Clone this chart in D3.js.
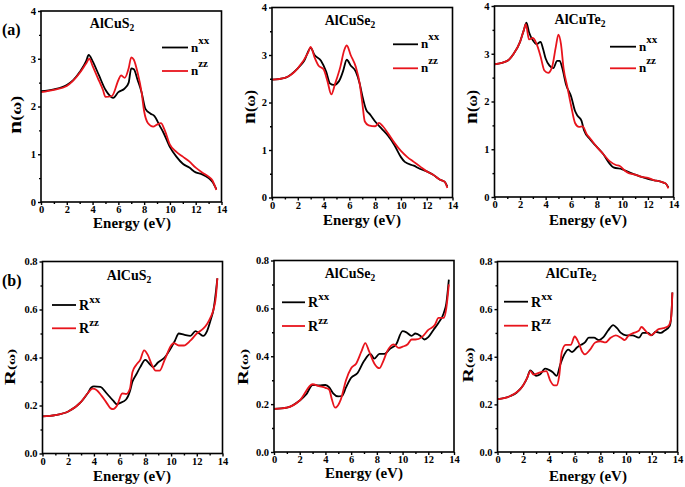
<!DOCTYPE html>
<html><head><meta charset="utf-8">
<script src="https://cdn.jsdelivr.net/npm/d3@7/dist/d3.min.js"></script>
<style>
body{margin:0;background:#fff;}
text{font-family:"Liberation Serif","Times New Roman",serif;font-weight:bold;fill:#000;}
</style></head>
<body><svg id="c" width="685" height="487"></svg>
<script>
// ---------- DATA ----------
const xTicks = [0,2,4,6,8,10,12,14];
const nTicks = [0,1,2,3,4];
const rTicks = [0,0.2,0.4,0.6,0.8];
const compounds = ["AlCuS", "AlCuSe", "AlCuTe"];

const nS_xx = [[0,2.32],[1,2.36],[2,2.45],[2.5,2.55],[3,2.72],[3.5,2.95],[3.7,3.08],[4,2.95],[4.5,2.65],[5,2.35],[5.2,2.27],[5.6,2.18],[6,2.3],[6.5,2.38],[6.8,2.5],[7.0,2.8],[7.2,2.78],[7.5,2.55],[7.8,2.3],[8.1,1.95],[8.5,1.85],[8.8,1.8],[9.2,1.6],[9.5,1.45],[10,1.15],[10.5,0.95],[11,0.8],[11.5,0.72],[12,0.62],[12.5,0.58],[13,0.5],[13.3,0.42],[13.6,0.27]];
const nS_zz = [[0,2.3],[1,2.35],[2,2.43],[3,2.7],[3.5,2.9],[3.75,3.0],[4,2.85],[4.4,2.6],[4.8,2.35],[5,2.2],[5.5,2.22],[6,2.55],[6.2,2.65],[6.5,2.6],[6.8,2.8],[7.0,3.03],[7.2,2.98],[7.5,2.7],[7.8,2.3],[8.0,1.9],[8.3,1.65],[8.7,1.58],[9.0,1.62],[9.3,1.65],[9.6,1.5],[10,1.2],[10.5,1.05],[11,0.95],[11.5,0.85],[12,0.72],[12.5,0.62],[13,0.53],[13.3,0.45],[13.6,0.25]];

const nSe_xx = [[0,2.48],[1,2.52],[2,2.72],[2.5,2.88],[3.0,3.15],[3.3,3.0],[3.8,2.88],[4.2,2.65],[4.5,2.4],[4.8,2.37],[5.2,2.45],[5.5,2.65],[5.8,2.9],[6.1,2.78],[6.5,2.65],[6.8,2.4],[7.0,2.15],[7.3,1.85],[7.6,1.75],[8.0,1.6],[8.5,1.45],[9,1.3],[9.5,1.1],[10,0.85],[10.3,0.75],[11,0.67],[11.5,0.6],[12,0.55],[12.5,0.48],[13,0.38],[13.4,0.33],[13.6,0.23]];
const nSe_zz = [[0,2.48],[1,2.52],[2,2.72],[2.8,3.05],[3.0,3.17],[3.3,2.95],[3.6,2.78],[4.0,2.7],[4.3,2.45],[4.6,2.17],[4.9,2.4],[5.3,2.75],[5.6,3.1],[5.8,3.2],[6.1,3.0],[6.5,2.75],[6.8,2.4],[7.0,2.0],[7.2,1.6],[7.5,1.52],[8.0,1.5],[8.3,1.57],[8.6,1.5],[9.0,1.35],[9.5,1.15],[10,0.98],[10.5,0.85],[11,0.75],[11.5,0.65],[12,0.55],[12.5,0.48],[13,0.38],[13.4,0.33],[13.6,0.2]];

const nTe_xx = [[0,2.78],[1,2.85],[1.5,3.0],[2.0,3.25],[2.3,3.5],[2.5,3.65],[2.7,3.45],[3.0,3.28],[3.3,3.2],[3.6,3.25],[3.8,3.1],[4.0,2.9],[4.3,2.75],[4.6,2.7],[4.9,2.85],[5.1,2.85],[5.3,2.7],[5.6,2.35],[6.0,2.1],[6.3,1.8],[6.5,1.7],[6.8,1.6],[7.0,1.4],[7.5,1.2],[8.0,1.05],[8.5,0.9],[9.0,0.7],[9.3,0.62],[10,0.58],[10.5,0.52],[11,0.47],[11.5,0.42],[12,0.38],[12.5,0.35],[13,0.32],[13.4,0.28],[13.6,0.2]];
const nTe_zz = [[0,2.78],[1,2.85],[1.5,3.0],[2.0,3.25],[2.3,3.5],[2.45,3.62],[2.7,3.3],[3.0,3.33],[3.3,3.2],[3.6,2.95],[3.9,2.65],[4.2,2.6],[4.5,2.72],[4.8,3.15],[5.0,3.4],[5.2,3.2],[5.4,2.7],[5.7,2.3],[6.0,1.9],[6.3,1.55],[6.6,1.47],[6.9,1.48],[7.2,1.32],[7.5,1.22],[8.0,1.05],[8.5,0.9],[9.0,0.75],[9.5,0.67],[9.8,0.65],[10.2,0.55],[10.5,0.5],[11,0.47],[11.5,0.42],[12,0.4],[12.5,0.35],[13,0.32],[13.4,0.28],[13.6,0.18]];

const rS_xx = [[0,0.155],[1,0.16],[2,0.175],[3,0.215],[3.5,0.25],[3.8,0.275],[4.0,0.28],[4.5,0.278],[5.0,0.25],[5.5,0.22],[5.8,0.205],[6.0,0.21],[6.5,0.225],[6.8,0.26],[7.0,0.3],[7.3,0.33],[7.6,0.36],[8.0,0.39],[8.3,0.375],[8.6,0.36],[9.0,0.38],[9.5,0.4],[10,0.44],[10.3,0.47],[10.6,0.5],[11,0.495],[11.5,0.49],[11.9,0.51],[12.2,0.5],[12.5,0.49],[12.8,0.51],[13.1,0.56],[13.3,0.6],[13.5,0.68],[13.6,0.73]];
const rS_zz = [[0,0.155],[1,0.16],[2,0.175],[3,0.215],[3.5,0.25],[3.9,0.27],[4.2,0.265],[4.6,0.24],[5.0,0.21],[5.3,0.188],[5.5,0.185],[5.8,0.2],[6.2,0.25],[6.5,0.248],[6.8,0.27],[7.0,0.34],[7.3,0.37],[7.6,0.39],[7.9,0.43],[8.2,0.41],[8.5,0.37],[8.8,0.345],[9.1,0.345],[9.5,0.39],[10,0.45],[10.2,0.46],[10.6,0.45],[11,0.45],[11.5,0.47],[12,0.5],[12.5,0.52],[12.8,0.54],[13.1,0.57],[13.3,0.6],[13.5,0.66],[13.6,0.73]];

const rSe_xx = [[0,0.18],[1,0.185],[2,0.215],[2.5,0.24],[3.0,0.28],[3.5,0.278],[4.0,0.28],[4.3,0.27],[4.6,0.245],[5.0,0.232],[5.3,0.235],[5.6,0.27],[6.0,0.31],[6.5,0.33],[7.0,0.38],[7.5,0.41],[7.8,0.39],[8.2,0.41],[8.6,0.41],[9.0,0.43],[9.5,0.45],[10,0.505],[10.3,0.5],[10.7,0.485],[11,0.495],[11.4,0.485],[11.7,0.47],[12,0.48],[12.4,0.51],[12.8,0.54],[13.2,0.58],[13.4,0.62],[13.6,0.72]];
const rSe_zz = [[0,0.18],[1,0.185],[2,0.215],[3.0,0.283],[3.5,0.275],[4.0,0.268],[4.3,0.26],[4.5,0.22],[4.75,0.185],[5.2,0.22],[5.6,0.3],[6.0,0.35],[6.4,0.37],[6.8,0.42],[7.1,0.455],[7.4,0.42],[7.8,0.37],[8.2,0.35],[8.5,0.38],[8.8,0.42],[9.3,0.45],[9.7,0.435],[10,0.44],[10.4,0.45],[10.7,0.47],[11,0.47],[11.5,0.48],[12,0.51],[12.5,0.53],[12.8,0.56],[13.2,0.56],[13.4,0.6],[13.6,0.7]];

const rTe_xx = [[0,0.222],[1,0.235],[1.5,0.25],[2.0,0.28],[2.3,0.31],[2.55,0.343],[2.8,0.33],[3.0,0.32],[3.3,0.325],[3.7,0.35],[4.0,0.345],[4.3,0.335],[4.6,0.32],[4.9,0.37],[5.2,0.41],[5.5,0.43],[5.8,0.42],[6.2,0.44],[6.5,0.45],[6.8,0.46],[7.1,0.48],[7.5,0.48],[7.9,0.47],[8.2,0.48],[8.6,0.51],[9.0,0.533],[9.3,0.52],[9.6,0.5],[10,0.49],[10.5,0.49],[11,0.48],[11.3,0.5],[11.7,0.5],[12,0.49],[12.3,0.505],[12.7,0.5],[13,0.51],[13.4,0.53],[13.55,0.6],[13.6,0.67]];
const rTe_zz = [[0,0.222],[1,0.235],[2,0.28],[2.3,0.31],[2.55,0.34],[2.8,0.325],[3.1,0.33],[3.5,0.338],[3.8,0.34],[4.1,0.3],[4.4,0.28],[4.6,0.28],[4.8,0.32],[5.0,0.42],[5.3,0.45],[5.7,0.45],[6.0,0.485],[6.3,0.46],[6.6,0.42],[6.8,0.41],[7.2,0.43],[7.6,0.46],[8.0,0.465],[8.4,0.46],[8.8,0.48],[9.2,0.49],[9.6,0.48],[9.9,0.47],[10.2,0.49],[10.6,0.5],[11,0.51],[11.2,0.525],[11.5,0.51],[11.9,0.49],[12.2,0.5],[12.5,0.515],[12.9,0.52],[13.3,0.53],[13.5,0.56],[13.6,0.67]];

// ---------- LAYOUT ----------
const panels = [
 {kind:"n", comp:0, xx:nS_xx, zz:nS_zz, box:[41,221.5,202,11], title:[112,28], leg:[162,188,47.5,71], yl:[21,115], ylen:38, xl:[132,228]},
 {kind:"n", comp:1, xx:nSe_xx, zz:nSe_zz, box:[272,452.5,197.5,7.5], title:[350,25], leg:[393,418,44.3,68.3], yl:[255,107], ylen:34, xl:[362,225]},
 {kind:"n", comp:2, xx:nTe_xx, zz:nTe_zz, box:[494.5,673.5,197,6], title:[580,24], leg:[610,636,46.7,68.3], yl:[477,107], ylen:34, xl:[588,225]},
 {kind:"R", comp:0, xx:rS_xx, zz:rS_zz, box:[42.5,222.5,453.5,261.5], title:[129,280], leg:[52,76,305,328.3], yl:[15,367], ylen:36, xl:[132,481]},
 {kind:"R", comp:1, xx:rSe_xx, zz:rSe_zz, box:[274,454,452,260.5], title:[350,278], leg:[282,305,302.3,326], yl:[248,367], ylen:36, xl:[364,478]},
 {kind:"R", comp:2, xx:rTe_xx, zz:rTe_zz, box:[497.5,677.5,452,261.5], title:[571,278], leg:[504,528,301.7,325.7], yl:[473,365], ylen:35, xl:[588,481]}
];
const RED = "#e8141c";

const svg = d3.select("#c");
svg.append("rect").attr("width",685).attr("height",487).attr("fill","#fff");

svg.append("text").attr("x",2).attr("y",35).style("font-size","16px").text("(a)");
svg.append("text").attr("x",2).attr("y",286).style("font-size","16px").text("(b)");

panels.forEach(p => {
  const [x0,x1,y0,y1] = p.box;
  const isN = p.kind === "n";
  const x = d3.scaleLinear().domain([0,14]).range([x0,x1]);
  const y = d3.scaleLinear().domain(isN ? [0,4] : [0,0.8]).range([y0,y1]);
  const g = svg.append("g");

  // curves
  const line = d3.line().x(d=>x(d[0])).y(d=>y(d[1])).curve(d3.curveMonotoneX);
  g.append("path").datum(p.xx).attr("d",line).attr("fill","none").attr("stroke","#000").attr("stroke-width",1.8);
  g.append("path").datum(p.zz).attr("d",line).attr("fill","none").attr("stroke",RED).attr("stroke-width",1.8);

  // frame
  g.append("rect").attr("x",x0).attr("y",y1).attr("width",x1-x0).attr("height",y0-y1)
    .attr("fill","none").attr("stroke","#000").attr("stroke-width",1.6);

  // axes
  const xa = d3.axisBottom(x).tickValues(xTicks).tickSize(3).tickPadding(1).tickFormat(d3.format("d"));
  const xm = d3.axisBottom(x).tickValues(d3.range(1,14,2)).tickSize(2).tickFormat("");
  const yT = isN ? nTicks : rTicks;
  const ya = d3.axisLeft(y).tickValues(yT).tickSize(3).tickPadding(2).tickFormat(isN ? d3.format("d") : d3.format(".1f"));
  const yMinor = isN ? [0.5,1.5,2.5,3.5] : [0.1,0.3,0.5,0.7];
  const ym = d3.axisLeft(y).tickValues(yMinor).tickSize(2).tickFormat("");
  [[xa,"b"],[xm,"b"],[ya,"l"],[ym,"l"]].forEach(([ax,s])=>{
    const a = g.append("g").attr("transform", s==="b" ? `translate(0,${y0})` : `translate(${x0},0)`).call(ax);
    a.select(".domain").remove();
    a.selectAll("line").attr("stroke","#000").attr("stroke-width",1.4);
    a.selectAll("text").style("font-size","10.5px").style("font-family","'Liberation Serif',serif").style("font-weight","bold");
  });

  // title
  const t = g.append("text").attr("x",p.title[0]).attr("y",p.title[1]).attr("text-anchor","middle").style("font-size","14px");
  t.append("tspan").text(compounds[p.comp]);
  t.append("tspan").attr("dy",3).style("font-size","9.5px").text("2");

  // legend
  const [lx0,lx1,ly1,ly2] = p.leg;
  const sym = isN ? "n" : "R";
  [[ly1,"#000","xx"],[ly2,RED,"zz"]].forEach(([ly,col,sup])=>{
    g.append("line").attr("x1",lx0).attr("x2",lx1).attr("y1",ly).attr("y2",ly).attr("stroke",col).attr("stroke-width",1.8);
    const lt = g.append("text").attr("x",lx1+3).attr("y",ly+(isN?4:5)).style("font-size", isN?"13px":"14px");
    lt.append("tspan").text(sym);
    lt.append("tspan").attr("dy", isN?-8:-7).style("font-size","11px").text(sup);
  });

  // axis titles
  g.append("text").attr("x",p.xl[0]).attr("y",p.xl[1]).attr("text-anchor","middle").style("font-size","15px").text("Energy (eV)");
  const yt = g.append("text").attr("transform",`translate(${p.yl[0]},${p.yl[1]}) rotate(-90)`).attr("text-anchor","middle")
    .attr("textLength", p.ylen).attr("lengthAdjust","spacingAndGlyphs");
  if (isN) {
    yt.append("tspan").style("font-size","19px").text("n");
    yt.append("tspan").style("font-size","14px").text("(ω)");
  } else {
    yt.append("tspan").style("font-size","15px").text("R");
    yt.append("tspan").style("font-size","11px").text("(ω)");
  }
});
</script></body></html>
